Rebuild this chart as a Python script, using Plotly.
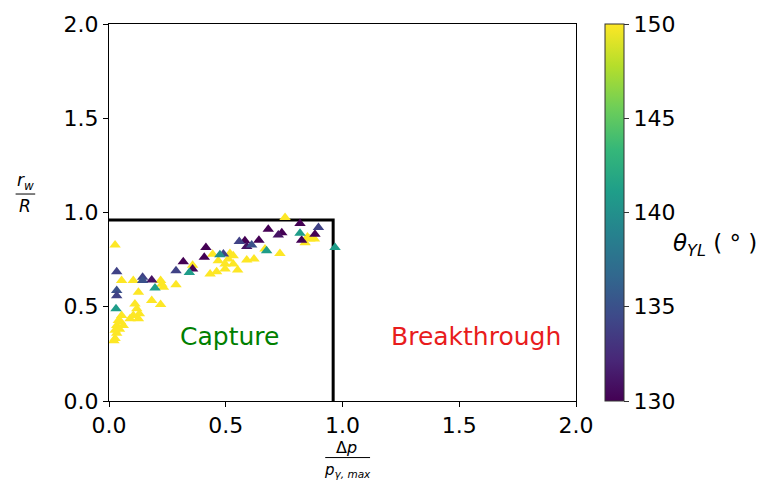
import plotly.graph_objects as go

# Normalised pressure drop, normalised wetted radius, and contact angle (deg)
dp_norm = [
    0.754, 0.860, 0.880, 0.840, 0.850, 0.732, 0.668, 0.590, 0.621, 0.551,
    0.444, 0.518, 0.532, 0.511, 0.468, 0.497, 0.532, 0.497, 0.461, 0.433,
    0.358, 0.287, 0.221, 0.233, 0.226, 0.104, 0.054, 0.126, 0.183, 0.221,
    0.026, 0.111, 0.119, 0.130, 0.104, 0.090, 0.126, 0.054, 0.040, 0.033,
    0.061, 0.026, 0.033, 0.026, 0.021, 0.045, 0.050,
    0.818, 0.682, 0.740, 0.725, 0.882, 0.825, 0.582, 0.590, 0.642, 0.415,
    0.408, 0.318, 0.358, 0.183,
    0.897, 0.558, 0.611, 0.287, 0.144, 0.144, 0.033, 0.033, 0.033, 0.490,
    0.818, 0.968, 0.675, 0.475, 0.344, 0.197, 0.030,
]
rw_norm = [
    0.973, 0.860, 0.860, 0.840, 0.870, 0.783, 0.806, 0.748, 0.753, 0.695,
    0.779, 0.783, 0.770, 0.753, 0.744, 0.727, 0.727, 0.700, 0.686, 0.674,
    0.720, 0.617, 0.639, 0.603, 0.620, 0.639, 0.639, 0.577, 0.533, 0.512,
    0.827, 0.515, 0.489, 0.463, 0.454, 0.436, 0.436, 0.454, 0.427, 0.401,
    0.401, 0.375, 0.360, 0.331, 0.320, 0.380, 0.420,
    0.941, 0.911, 0.893, 0.881, 0.885, 0.853, 0.850, 0.820, 0.853, 0.814,
    0.762, 0.739, 0.700, 0.642,
    0.920, 0.846, 0.827, 0.691, 0.656, 0.639, 0.686, 0.586, 0.559, 0.780,
    0.890, 0.814, 0.797, 0.776, 0.682, 0.600, 0.489,
]
theta_yl = (
    [150] * 47
    + [130, 130, 130, 131, 130, 130, 130, 131, 130, 130, 130, 130, 130, 131]
    + [134, 134, 135, 134, 134, 135, 134, 135, 134, 134]
    + [141, 141, 141, 140, 141, 141, 141]
)

# Capture / breakthrough boundary
boundary_x = [0.0, 0.96, 0.96]
boundary_y = [0.96, 0.96, 0.0]

axis_ticks = [0.0, 0.5, 1.0, 1.5, 2.0]
axis_ticktext = ["0.0", "0.5", "1.0", "1.5", "2.0"]
cbar_ticks = [130, 135, 140, 145, 150]

font_family = "DejaVu Sans"

fig = go.Figure()

fig.add_trace(go.Scatter(
    x=boundary_x, y=boundary_y, mode="lines",
    line=dict(color="black", width=3),
    showlegend=False, hoverinfo="skip",
))

fig.add_trace(go.Scatter(
    x=dp_norm, y=rw_norm, mode="markers",
    marker=dict(
        symbol="triangle-up", size=10,
        color=theta_yl, colorscale="Viridis", cmin=130, cmax=150,
        line=dict(width=0),
        colorbar=dict(
            x=1.062, xanchor="left", xpad=0, y=0.5, yanchor="middle", ypad=0,
            len=1.0, lenmode="fraction", thickness=19,
            outlinewidth=1, outlinecolor="#333333",
            tickvals=cbar_ticks, ticks="outside", ticklen=5,
            tickcolor="#333333",
            tickfont=dict(size=22, color="black", family=font_family),
        ),
    ),
    showlegend=False,
))

fig.add_annotation(x=0.518, y=0.343, xref="x", yref="y", text="Capture",
                   showarrow=False, font=dict(size=25, color="green", family=font_family))
fig.add_annotation(x=1.57, y=0.343, xref="x", yref="y", text="Breakthrough",
                   showarrow=False, font=dict(size=25, color="#e81c1c", family=font_family))

# Colorbar label
fig.add_annotation(x=1.298, y=0.415, xref="paper", yref="paper",
                   text="<i>θ</i><sub><i>YL</i></sub> ( ° )", showarrow=False,
                   xanchor="center", yanchor="middle",
                   font=dict(size=23, color="black", family=font_family))

# Y-axis label as a fraction r_w / R
fig.add_annotation(x=-0.179, y=0.582, xref="paper", yref="paper",
                   text="<i>r<sub>w</sub></i>", showarrow=False,
                   xanchor="center", yanchor="middle",
                   font=dict(size=17, color="black", family=font_family))
fig.add_shape(type="line", xref="paper", yref="paper",
              x0=-0.200, x1=-0.158, y0=0.549, y1=0.549,
              line=dict(color="black", width=1))
fig.add_annotation(x=-0.179, y=0.518, xref="paper", yref="paper",
                   text="<i>R</i>", showarrow=False,
                   xanchor="center", yanchor="middle",
                   font=dict(size=17, color="black", family=font_family))

# X-axis label as a fraction Δp / p_γ,max
fig.add_annotation(x=0.509, y=-0.150, xref="paper", yref="paper",
                   text="Δ<i>p</i>", showarrow=False,
                   xanchor="center", yanchor="bottom", yshift=0,
                   borderpad=0,
                   font=dict(size=16, color="black", family=font_family))
fig.add_shape(type="line", xref="paper", yref="paper",
              x0=0.463, x1=0.559, y0=-0.150, y1=-0.150,
              line=dict(color="black", width=1))
fig.add_annotation(x=0.511, y=-0.150, xref="paper", yref="paper",
                   text="<i>p<sub>γ, max</sub></i>", showarrow=False,
                   xanchor="center", yanchor="top", yshift=-1,
                   font=dict(size=15, color="black", family=font_family))

axis_common = dict(
    range=[0, 2], tickvals=axis_ticks, ticktext=axis_ticktext,
    showgrid=False, zeroline=False,
    showline=True, linecolor="black", linewidth=1, mirror=True,
    ticks="outside", ticklen=5, tickwidth=1, tickcolor="black",
    tickfont=dict(size=22, color="black", family=font_family),
)

fig.update_layout(
    width=760, height=481,
    margin=dict(l=109, r=184, t=22, b=80),
    paper_bgcolor="white", plot_bgcolor="white",
    xaxis=axis_common, yaxis=axis_common,
    font=dict(family=font_family),
)

fig.write_html("out.html")
